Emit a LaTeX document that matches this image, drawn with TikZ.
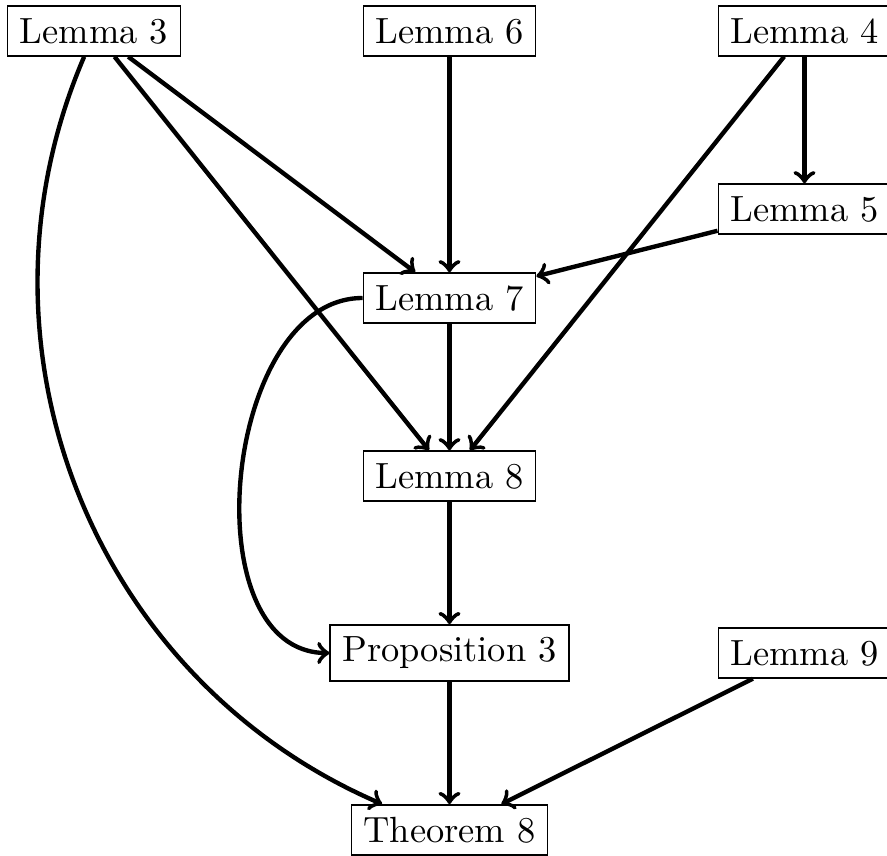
\documentclass[tikz,border=0pt]{standalone}
\begin{document}
\begin{tikzpicture}[x=0.2745pt,y=-0.2745pt,
  box/.style={draw, rectangle},
  arr/.style={->, very thick}]
\useasboundingbox (0,0) rectangle (887,856);
\node[box] (L3) at (94,31) {Lemma 3};
\node[box] (L6) at (449.5,31) {Lemma 6};
\node[box] (L4) at (804.5,31) {Lemma 4};
\node[box] (L5) at (804.5,209) {Lemma 5};
\node[box] (L7) at (449.5,298) {Lemma 7};
\node[box] (L8) at (449.5,476) {Lemma 8};
\node[box] (P3) at (449.5,653) {Proposition 3};
\node[box] (L9) at (804.5,653) {Lemma 9};
\node[box] (T8) at (449.5,830) {Theorem 8};
\draw[arr] (L3) -- (L7);
\draw[arr] (L3) -- (L8);
\draw[arr] (L3) to[bend right=45] (T8);
\draw[arr] (L6) -- (L7);
\draw[arr] (L4) -- (L5);
\draw[arr] (L4) -- (L8);
\draw[arr] (L5) -- (L7);
\draw[arr] (L7) -- (L8);
\draw[arr] (L7) to[out=180,in=180] (P3);
\draw[arr] (L8) -- (P3);
\draw[arr] (P3) -- (T8);
\draw[arr] (L9) -- (T8);
\end{tikzpicture}
\end{document}
